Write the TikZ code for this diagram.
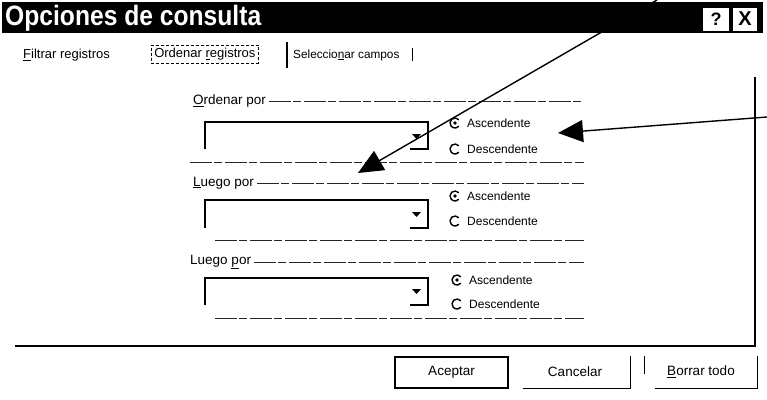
\documentclass[tikz,border=0pt]{standalone}
\usepackage{graphicx}
\usepackage{fontspec}
\setmainfont{Liberation Sans}
\usetikzlibrary{arrows.meta}
\newcommand{\myradio}[3]{%
  \draw[radio] ([shift={(40:5pt)}]#1,#2) arc[start angle=40,end angle=320,radius=5pt];
  \ifnum#3=1 \fill (#1,#2) circle[radius=1.9pt];\fi}
\begin{document}
\begin{tikzpicture}[x=1pt,y=-1pt,
  ui/.style={inner sep=0pt, anchor=west, font=\fontsize{13.5}{15}\selectfont},
  radiotxt/.style={inner sep=0pt, anchor=west, font=\fontsize{12}{14}\selectfont},
  grp/.style={line width=0.8pt, black!85, dash pattern=on 22pt off 2pt on 8pt off 3pt},
  combo/.style={line width=1.5pt},
  radio/.style={line width=1.4pt},
  btn/.style={line width=1.3pt},
  pointer/.style={line width=1.4pt, -{Triangle[length=25pt,width=22pt]}},
  capbox/.style={fill=white, inner sep=0pt, minimum height=23pt, font=\bfseries\fontsize{18}{20}\selectfont},
]
\useasboundingbox (0,0) rectangle (767,399);
% title bar
\fill[black] (2,2) rectangle (763,33);
\node[anchor=west, text=white, inner sep=0pt, font=\bfseries\fontsize{28}{30}\selectfont] (title) at (5,18) {\scalebox{0.88}[1]{Opciones de consulta}};
\node[capbox, minimum width=26pt] (help) at (716,19) {?};
\node[capbox, minimum width=24pt] (close) at (745,19) {\fontsize{20}{20}\selectfont X};
% tabs
\node[ui, font=\fontsize{13}{15}\selectfont] (tf) at (23,55) {\underline{F}iltrar registros};
\node[ui, font=\fontsize{13}{15}\selectfont, draw, densely dashed, line width=0.6pt, inner sep=3pt] (to) at (151,54) {Ordenar \underline{r}egistros};
\draw[line width=1.8pt] (287,42) -- (287,68);
\node[ui, font=\fontsize{11.8}{14}\selectfont] (ts) at (293,55) {Seleccio\underline{n}ar campos};
\draw[line width=1pt] (412,48) -- (412,61);
% dialog frame
\draw[line width=1.4pt] (755,77) -- (755,346) -- (15,346);
% group 1
\node[ui] (g1) at (193,101) {\underline{O}rdenar por};
\coordinate (g1r) at (584,101);
\draw[grp] ([xshift=3pt]g1.east) -- (g1r);
\draw[combo] (205,149) -- (205,122) -- (428,122) -- (428,149) -- (410,149);
\fill (412,134) -- (421,134) -- (416.5,139) -- cycle;
\myradio{455}{123}{1}
\myradio{455}{149}{0}
\node[radiotxt] (a1) at (467,123) {Ascendente};
\node[radiotxt] (d1) at (467,149) {Descendente};
\draw[grp] (190,162) -- (584,162);
% group 2
\node[ui] (g2) at (193,183) {\underline{L}uego por};
\coordinate (g2r) at (584,183);
\draw[grp] ([xshift=3pt]g2.east) -- (g2r);
\draw[combo] (205,228) -- (205,200) -- (428,200) -- (428,228) -- (410,228);
\fill (412,212) -- (421,212) -- (416.5,217) -- cycle;
\myradio{455}{196}{1}
\myradio{455}{221}{0}
\node[radiotxt] (a2) at (467,196) {Ascendente};
\node[radiotxt] (d2) at (467,221) {Descendente};
\draw[grp] (215,240) -- (584,240);
% group 3
\node[ui] (g3) at (190,262) {Luego \underline{p}or};
\coordinate (g3r) at (584,262);
\draw[grp] ([xshift=3pt]g3.east) -- (g3r);
\draw[combo] (205,305) -- (205,278) -- (428,278) -- (428,305) -- (410,305);
\fill (412,289) -- (421,289) -- (416.5,294) -- cycle;
\myradio{457}{280}{1}
\myradio{457}{304}{0}
\node[radiotxt] (a3) at (469,280) {Ascendente};
\node[radiotxt] (d3) at (469,304) {Descendente};
\draw[grp] (215,318) -- (584,318);
% buttons
\node[draw, btn, minimum width=113pt, minimum height=31pt, inner sep=0pt, font=\fontsize{13.5}{15}\selectfont] (ok) at (451.5,372.5) {Aceptar};
\node[minimum width=110pt, minimum height=32pt, inner sep=0pt, font=\fontsize{13.5}{15}\selectfont] (cancel) at (575,372) {Cancelar};
\draw[btn] ([xshift=3pt]cancel.south west) -- (cancel.south east) -- (cancel.north east);
\node[minimum width=112pt, minimum height=32pt, inner sep=0pt, font=\fontsize{13.5}{15}\selectfont] (clear) at (701,372) {\underline{B}orrar todo};
\draw[btn] (clear.north west) -- ++(0,18);
\draw[btn] ([xshift=10pt]clear.south west) -- (clear.south east) -- (clear.north east);
% pointers
\coordinate (p1s) at (657,0);
\coordinate (p1e) at (358,173);
\draw[pointer] (p1s) -- (p1e);
\coordinate (p2s) at (767,117);
\coordinate (p2e) at (558,133);
\draw[pointer] (p2s) -- (p2e);
\end{tikzpicture}
\end{document}
